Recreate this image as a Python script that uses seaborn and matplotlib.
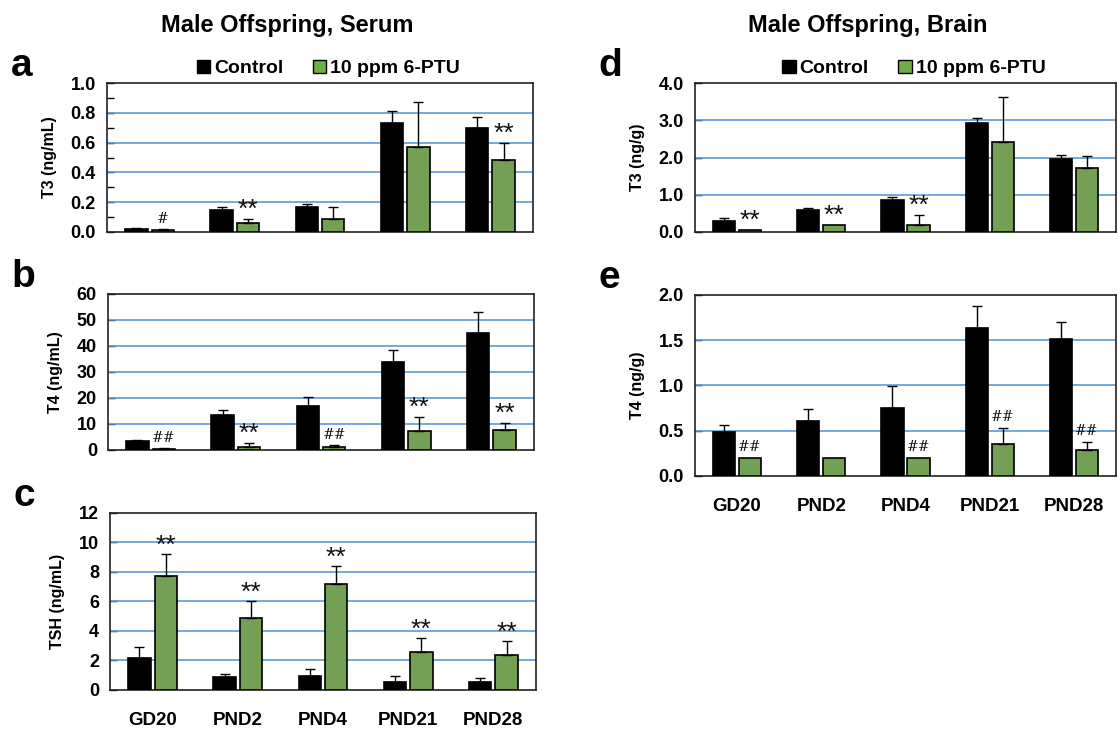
import numpy as np
import pandas as pd
import matplotlib
matplotlib.use("Agg")
import matplotlib.pyplot as plt
import seaborn as sns
from matplotlib.patches import Patch
from matplotlib.ticker import MultipleLocator, FormatStrFormatter

days = ["GD20", "PND2", "PND4", "PND21", "PND28"]
groups = ["Control", "10 ppm 6-PTU"]

# serum T3 (ng/mL)
t3_serum_ctrl = [0.02, 0.15, 0.17, 0.73, 0.70]
t3_serum_ctrl_err = [0.005, 0.015, 0.02, 0.08, 0.07]
t3_serum_ptu = [0.015, 0.06, 0.09, 0.57, 0.48]
t3_serum_ptu_err = [0.003, 0.025, 0.08, 0.30, 0.12]
t3_serum_sig = ["#", "**", "", "", "**"]

# serum T4 (ng/mL)
t4_serum_ctrl = [3.5, 13.5, 16.8, 34.0, 45.0]
t4_serum_ctrl_err = [0.5, 2.0, 3.7, 4.5, 8.0]
t4_serum_ptu = [0.5, 1.3, 1.0, 7.3, 7.7]
t4_serum_ptu_err = [0.1, 1.5, 1.0, 5.5, 2.8]
t4_serum_sig = ["##", "**", "##", "**", "**"]

# serum TSH (ng/mL)
tsh_ctrl = [2.2, 0.9, 0.95, 0.55, 0.55]
tsh_ctrl_err = [0.7, 0.2, 0.45, 0.4, 0.25]
tsh_ptu = [7.7, 4.9, 7.2, 2.6, 2.4]
tsh_ptu_err = [1.5, 1.1, 1.2, 0.9, 0.9]
tsh_sig = ["**", "**", "**", "**", "**"]

# brain T3 (ng/g)
t3_brain_ctrl = [0.30, 0.58, 0.85, 2.92, 1.95]
t3_brain_ctrl_err = [0.07, 0.07, 0.08, 0.15, 0.11]
t3_brain_ptu = [0.05, 0.20, 0.20, 2.42, 1.72]
t3_brain_ptu_err = [0.0, 0.0, 0.25, 1.21, 0.31]
t3_brain_sig = ["**", "**", "**", "", ""]

# brain T4 (ng/g)
t4_brain_ctrl = [0.49, 0.61, 0.75, 1.63, 1.51]
t4_brain_ctrl_err = [0.07, 0.13, 0.24, 0.25, 0.19]
t4_brain_ptu = [0.20, 0.20, 0.20, 0.35, 0.29]
t4_brain_ptu_err = [0.0, 0.0, 0.0, 0.18, 0.09]
t4_brain_sig = ["##", "", "##", "##", "##"]

sns.set_theme(style="white")
plt.rcParams["font.family"] = ["Liberation Sans", "DejaVu Sans"]
plt.rcParams["font.weight"] = "bold"
for key in ["text.color", "axes.labelcolor", "xtick.color", "ytick.color"]:
    plt.rcParams[key] = "black"

BLACK = "#000000"
GREEN = "#70ad47"
GRID = "#5b9bd5"

fig = plt.figure(figsize=(11.18, 7.36), dpi=100)


def panel(rect, ctrl, ctrl_err, ptu, ptu_err, sig, ymax, step, fmt, ylabel,
          letter, xlabels=False, minor=None, legend=False):
    ax = fig.add_axes(rect)
    df = pd.DataFrame({
        "day": days * 2,
        "group": [groups[0]] * 5 + [groups[1]] * 5,
        "value": ctrl + ptu,
    })
    sns.barplot(data=df, x="day", y="value", hue="group", order=days,
                hue_order=groups, palette=[BLACK, GREEN], edgecolor="black",
                linewidth=1.2, width=0.62, gap=0.15, errorbar=None,
                legend=False, ax=ax, zorder=3)
    errs = [ctrl_err, ptu_err]
    bar_conts = list(ax.containers)
    for ci, cont in enumerate(bar_conts):
        for i, bar in enumerate(cont):
            xc = bar.get_x() + bar.get_width() / 2
            h = bar.get_height()
            e = errs[ci][i]
            if e > 0:
                ax.errorbar(xc, h, yerr=[[0], [e]], fmt="none", ecolor="black",
                            elinewidth=1, capsize=3.5, capthick=1, zorder=4)
            if ci == 1 and sig[i]:
                if sig[i] == "**":
                    ax.text(xc, h + e - ymax * 0.02, "**", ha="center",
                            va="bottom", fontsize=19, fontweight="normal",
                            color="#111111", zorder=5)
                else:
                    ax.text(xc, h + e + ymax * 0.02, sig[i], ha="center",
                            va="bottom", fontsize=10, fontweight="normal",
                            family=["DejaVu Serif"], color="#111111", zorder=5)
    ax.set_xlim(-0.5, 4.5)
    ax.set_ylim(0, ymax)
    ax.yaxis.set_major_locator(MultipleLocator(step))
    ax.yaxis.set_major_formatter(FormatStrFormatter(fmt))
    if minor:
        ax.yaxis.set_minor_locator(MultipleLocator(minor))
    for t in np.arange(step, ymax - step / 2, step):
        ax.axhline(t, color=GRID, linewidth=1.2, zorder=1)
    for s in ax.spines.values():
        s.set_color("#222222")
        s.set_linewidth(1.2)
    ax.tick_params(axis="y", which="both", direction="in", left=True,
                   length=5, width=1, labelsize=13, pad=8)
    ax.tick_params(axis="x", length=0, labelsize=13.5, pad=16)
    ax.set_xlabel("")
    ax.set_ylabel(ylabel, fontsize=11.5, fontweight="bold", labelpad=10)
    if not xlabels:
        ax.set_xticklabels([])
    for lab in ax.get_yticklabels() + ax.get_xticklabels():
        lab.set_fontweight("bold")
    fig.text(rect[0] - 0.086, rect[1] + rect[3] + 0.023, letter,
             fontsize=28, fontweight="bold", va="center", ha="left")
    if legend:
        handles = [Patch(facecolor=BLACK, edgecolor="black"),
                   Patch(facecolor=GREEN, edgecolor="black")]
        ax.legend(handles, groups, loc="lower center",
                  bbox_to_anchor=(0.52, 0.96), ncol=2, frameon=False,
                  handlelength=0.7, handleheight=0.7, handletextpad=0.2,
                  columnspacing=1.5, prop={"size": 14, "weight": "bold"},
                  borderpad=0.1)
    return ax


panel([0.0957, 0.6848, 0.381, 0.2024], t3_serum_ctrl, t3_serum_ctrl_err,
      t3_serum_ptu, t3_serum_ptu_err, t3_serum_sig, 1.0, 0.2, "%.1f",
      "T3 (ng/mL)", "a", minor=0.1, legend=True)
panel([0.0966, 0.3886, 0.381, 0.212], t4_serum_ctrl, t4_serum_ctrl_err,
      t4_serum_ptu, t4_serum_ptu_err, t4_serum_sig, 60, 10, "%d",
      "T4 (ng/mL)", "b")
panel([0.0984, 0.0625, 0.381, 0.2405], tsh_ctrl, tsh_ctrl_err,
      tsh_ptu, tsh_ptu_err, tsh_sig, 12, 2, "%d",
      "TSH (ng/mL)", "c", xlabels=True)
panel([0.6216, 0.6848, 0.3766, 0.2024], t3_brain_ctrl, t3_brain_ctrl_err,
      t3_brain_ptu, t3_brain_ptu_err, t3_brain_sig, 4.0, 1.0, "%.1f",
      "T3 (ng/g)", "d", legend=True)
panel([0.6216, 0.3533, 0.3766, 0.2459], t4_brain_ctrl, t4_brain_ctrl_err,
      t4_brain_ptu, t4_brain_ptu_err, t4_brain_sig, 2.0, 0.5, "%.1f",
      "T4 (ng/g)", "e", xlabels=True)

fig.text(0.257, 0.965, "Male Offspring, Serum", fontsize=17,
         fontweight="bold", ha="center", va="center")
fig.text(0.776, 0.965, "Male Offspring, Brain", fontsize=17,
         fontweight="bold", ha="center", va="center")

fig.savefig("out.png", dpi=100)
